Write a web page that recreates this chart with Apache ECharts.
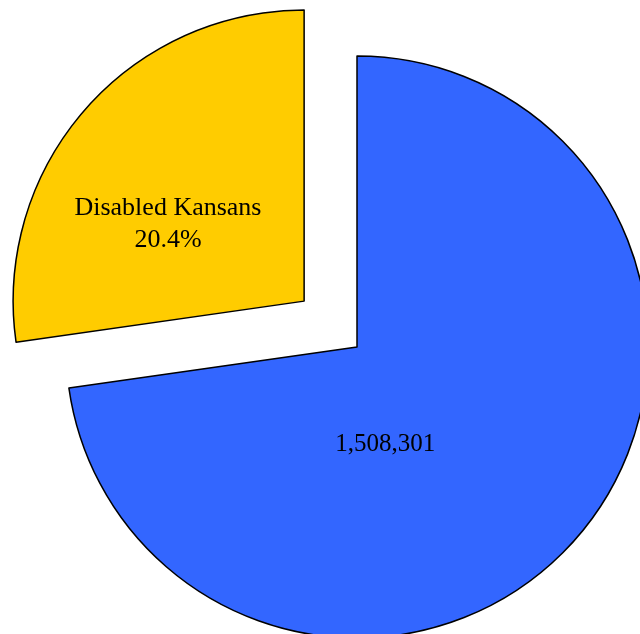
<!DOCTYPE html>
<html>
<head>
<meta charset="utf-8">
<script src="https://cdn.jsdelivr.net/npm/echarts@6/dist/echarts.min.js"></script>
<style>html,body{margin:0;padding:0;background:#fff;}#c{width:640px;height:634px;}</style>
</head>
<body>
<div id="c"></div>
<script>
var categories = ['Other Kansans', 'Disabled Kansans'];
var values = [1508301, 565000];
var labelTexts = ['1,508,301', 'Disabled Kansans\n20.4%'];
var colors = ['#3366FF', '#FFCC00'];
var exploded = [false, true];

var chart = echarts.init(document.getElementById('c'));
var labelOffsets = [[-84, 0], [-24, 20]];
var labelSize = [25, 26];
var data = categories.map(function (c, i) {
  var lbl = { formatter: labelTexts[i], fontSize: labelSize[i], offset: labelOffsets[i] };
  return {
    name: c,
    value: values[i],
    selected: exploded[i],
    itemStyle: { color: colors[i] },
    label: lbl,
    select: { label: lbl }
  };
});
chart.setOption({
  animation: false,
  series: [{
    type: 'pie',
    center: [357, 347],
    radius: 291,
    startAngle: 90,
    clockwise: true,
    selectedMode: 'single',
    selectedOffset: 70,
    avoidLabelOverlap: false,
    itemStyle: { borderColor: '#000', borderWidth: 1.5 },
    label: {
      show: true,
      position: 'inside',
      fontFamily: 'Liberation Serif, Times New Roman, serif',
      lineHeight: 32,
      color: '#000',
      align: 'center',
      verticalAlign: 'middle'
    },
    labelLine: { show: false },
    emphasis: { scale: false, disabled: true },
    data: data
  }]
});
</script>
</body>
</html>
